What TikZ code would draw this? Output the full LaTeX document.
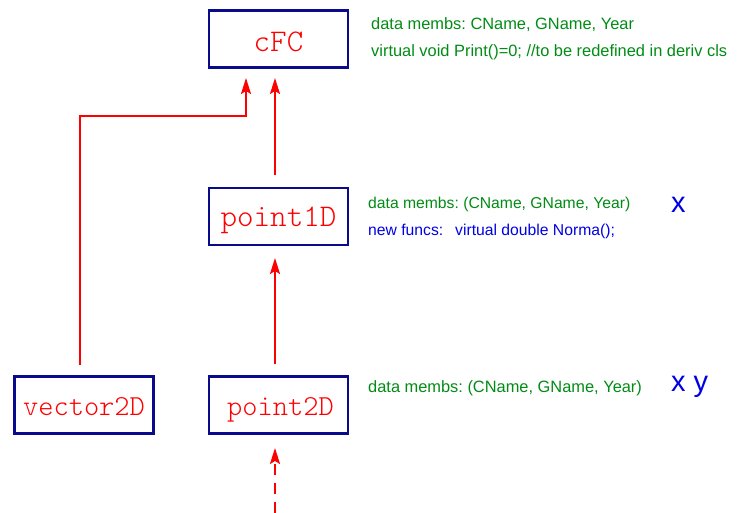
\documentclass[tikz,border=0pt]{standalone}
\usepackage{fontspec}
\newfontfamily\labsans{Liberation Sans}
\newfontfamily\boxmono[Extension=.otf]{lmmonolt10-regular}
\usetikzlibrary{arrows.meta}
\definecolor{boxblue}{RGB}{10,10,140}
\definecolor{txtgreen}{RGB}{0,140,20}
\definecolor{txtblue}{RGB}{0,0,230}
\tikzset{
  cls/.style={draw=boxblue, line width=2.1pt, minimum width=139pt, minimum height=57pt, inner sep=0pt,
    text=red, font=\boxmono\fontsize{29}{30}\selectfont, text height=20pt, text depth=0pt},
  big/.style={font=\boxmono\fontsize{31.5}{32}\selectfont},
  inh/.style={draw=red, line width=1.8pt, -{Stealth[length=16pt,width=10pt,inset=3pt]}},
  note/.style={anchor=west, inner sep=0pt, text=txtgreen, font=\frenchspacing\labsans\fontsize{16.4}{18}\selectfont},
  var/.style={anchor=west, inner sep=0pt, text=txtblue, font=\labsans\fontsize{29}{30}\selectfont}
}
\begin{document}
\begin{tikzpicture}[x=1pt,y=-1pt]
\useasboundingbox (0,0) rectangle (739,513);
\node[cls, big, text height=26pt] (cfc) at (278.5,39) {cFC};
\node[cls, big, text height=19pt] (p1) at (278.5,216.5) {point1D};
\node[cls] (v2) at (84,405) {vector2D};
\node[cls] (p2) at (278.5,405) {\hspace{4pt}point2D};
\draw[inh] (275,175) -- (275,78);
\draw[inh] (80,365) -- (80,116) -- (246,116) -- (246,78);
\draw[inh] (275,364) -- (275,258);
\draw[inh, dashed, dash pattern=on 11pt off 8pt] (275,513) -- (275,448);
\node[note] (n1) at (371,25) {data membs: CName, GName, Year};
\node[note] (n2) at (371,52) {virtual void Print()=0; //to be redefined in deriv cls};
\node[note, font=\frenchspacing\labsans\fontsize{15.7}{17}\selectfont] (n3) at (368,204) {data membs: (CName, GName, Year)};
\node[note, text=txtblue, font=\frenchspacing\labsans\fontsize{15.7}{17}\selectfont] (n4) at (368,231) {new funcs:\hspace{12pt}virtual double Norma();};
\node[var] (x1) at (671,205) {x};
\node[var] (x2) at (671,387) {x y};
\node[note] (n5) at (368,388) {data membs: (CName, GName, Year)};
\end{tikzpicture}
\end{document}
